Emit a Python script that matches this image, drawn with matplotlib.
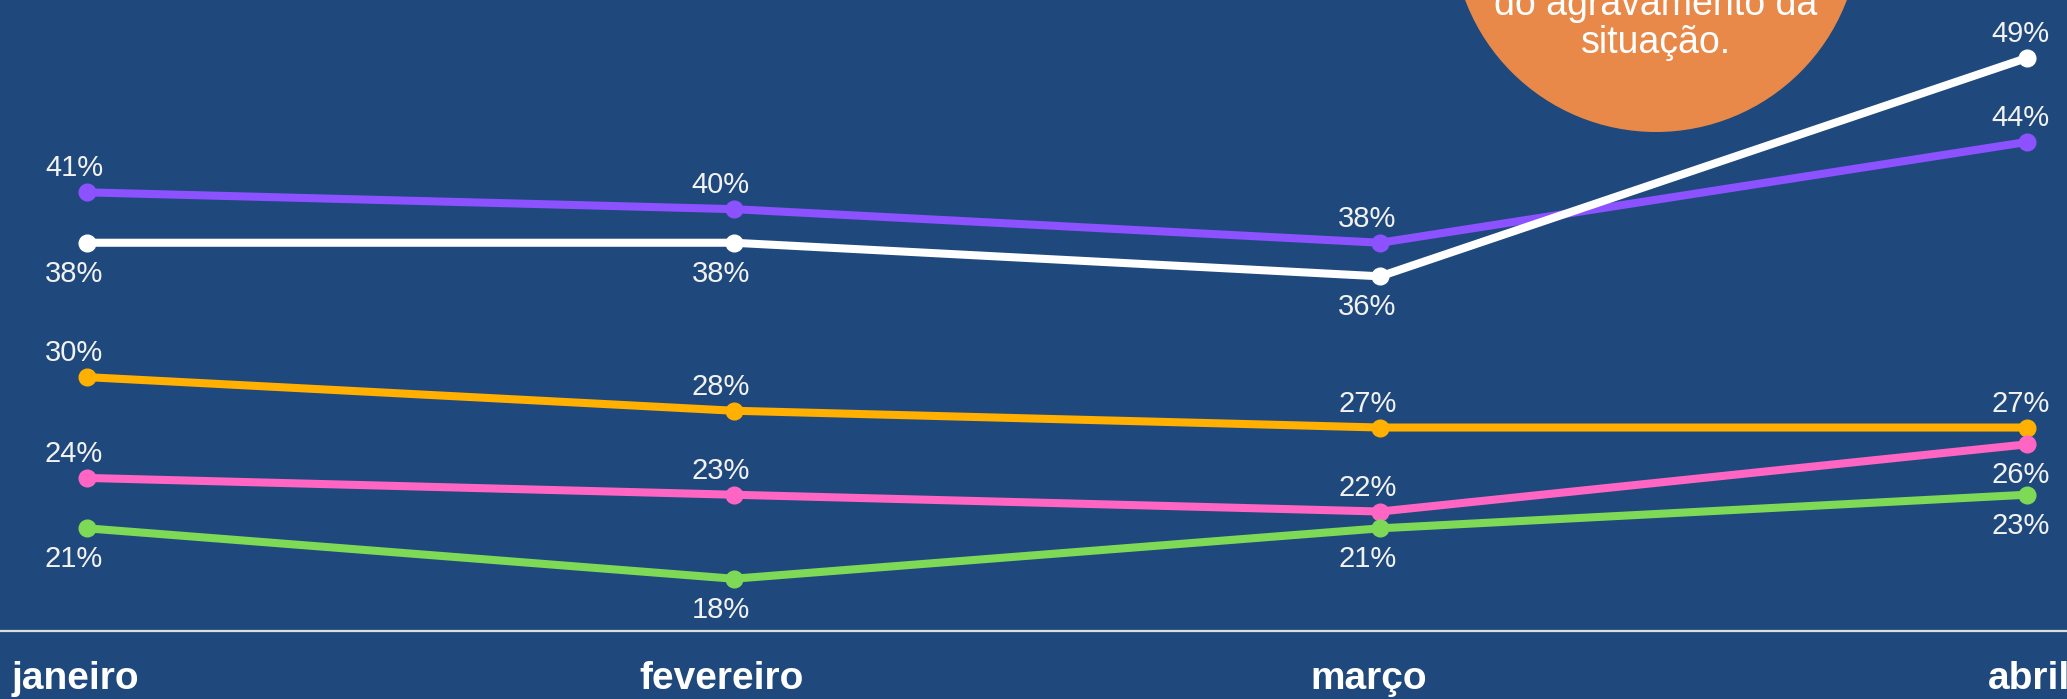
import matplotlib
matplotlib.use('Agg')

import matplotlib.pyplot as plt
from matplotlib.patches import Circle

# data
meses = ['janeiro', 'fevereiro', 'março', 'abril']
serie_roxa = [41, 40, 38, 44]
serie_branca = [38, 38, 36, 49]
serie_laranja = [30, 28, 27, 27]
serie_rosa = [24, 23, 22, 26]
serie_verde = [21, 18, 21, 23]

# label side per point: 1 = above, -1 = below
lado_roxa = [1, 1, 1, 1]
lado_branca = [-1, -1, -1, 1]
lado_laranja = [1, 1, 1, 1]
lado_rosa = [1, 1, 1, -1]
lado_verde = [-1, -1, -1, -1]

bg = '#1F497D'
series = [
    (serie_roxa, lado_roxa, '#8C52FF'),
    (serie_branca, lado_branca, '#FFFFFF'),
    (serie_laranja, lado_laranja, '#FFB000'),
    (serie_rosa, lado_rosa, '#FF66C4'),
    (serie_verde, lado_verde, '#7ED957'),
]

fig = plt.figure(figsize=(20.67, 6.99), dpi=100)
fig.patch.set_facecolor(bg)
ax = fig.add_axes([0, 0, 1, 1])
ax.set_facecolor(bg)
ax.set_xlim(-0.1345, 3.062)
ax.set_ylim(10.84, 52.45)
ax.axis('off')

x = list(range(len(meses)))
for vals, lados, cor in series:
    ax.plot(x, vals, color=cor, lw=5.8, marker='o', markersize=12,
            solid_capstyle='round', zorder=3)
    for i, (v, s) in enumerate(zip(vals, lados)):
        dx = -13 if i < 3 else -6
        dy = 24 if s > 0 else -31
        ax.annotate(f'{v}%', (i, v), xytext=(dx, dy), textcoords='offset pixels',
                    ha='center', va='center', color='#F2F2F2', fontsize=21,
                    family='Liberation Sans', zorder=4)

# baseline
ax.axhline(14.89, color='#DDDDDD', lw=1.6, zorder=2)

# month labels
for i, m in enumerate(meses):
    dx = -12 if i < 3 else 2
    ax.text(i + dx / 646.7, 0.028, m, transform=ax.get_xaxis_transform(),
            ha='center', va='center', color='white', fontsize=28,
            fontweight='bold', family='Liberation Sans')

# orange note bubble, cut off at the top
ax.add_patch(Circle((16.56, 7.71), 2.04, transform=fig.dpi_scale_trans,
                    facecolor='#E8894A', edgecolor='none', zorder=5))
fig.text(1656 / 2067, 1 - 5 / 699, 'do agravamento da', ha='center', va='center',
         color='white', fontsize=27, family='Liberation Sans', zorder=6)
fig.text(1656 / 2067, 1 - 43 / 699, 'situação.', ha='center', va='center',
         color='white', fontsize=27, family='Liberation Sans', zorder=6)

fig.savefig('out.png', dpi=100, facecolor=bg)
